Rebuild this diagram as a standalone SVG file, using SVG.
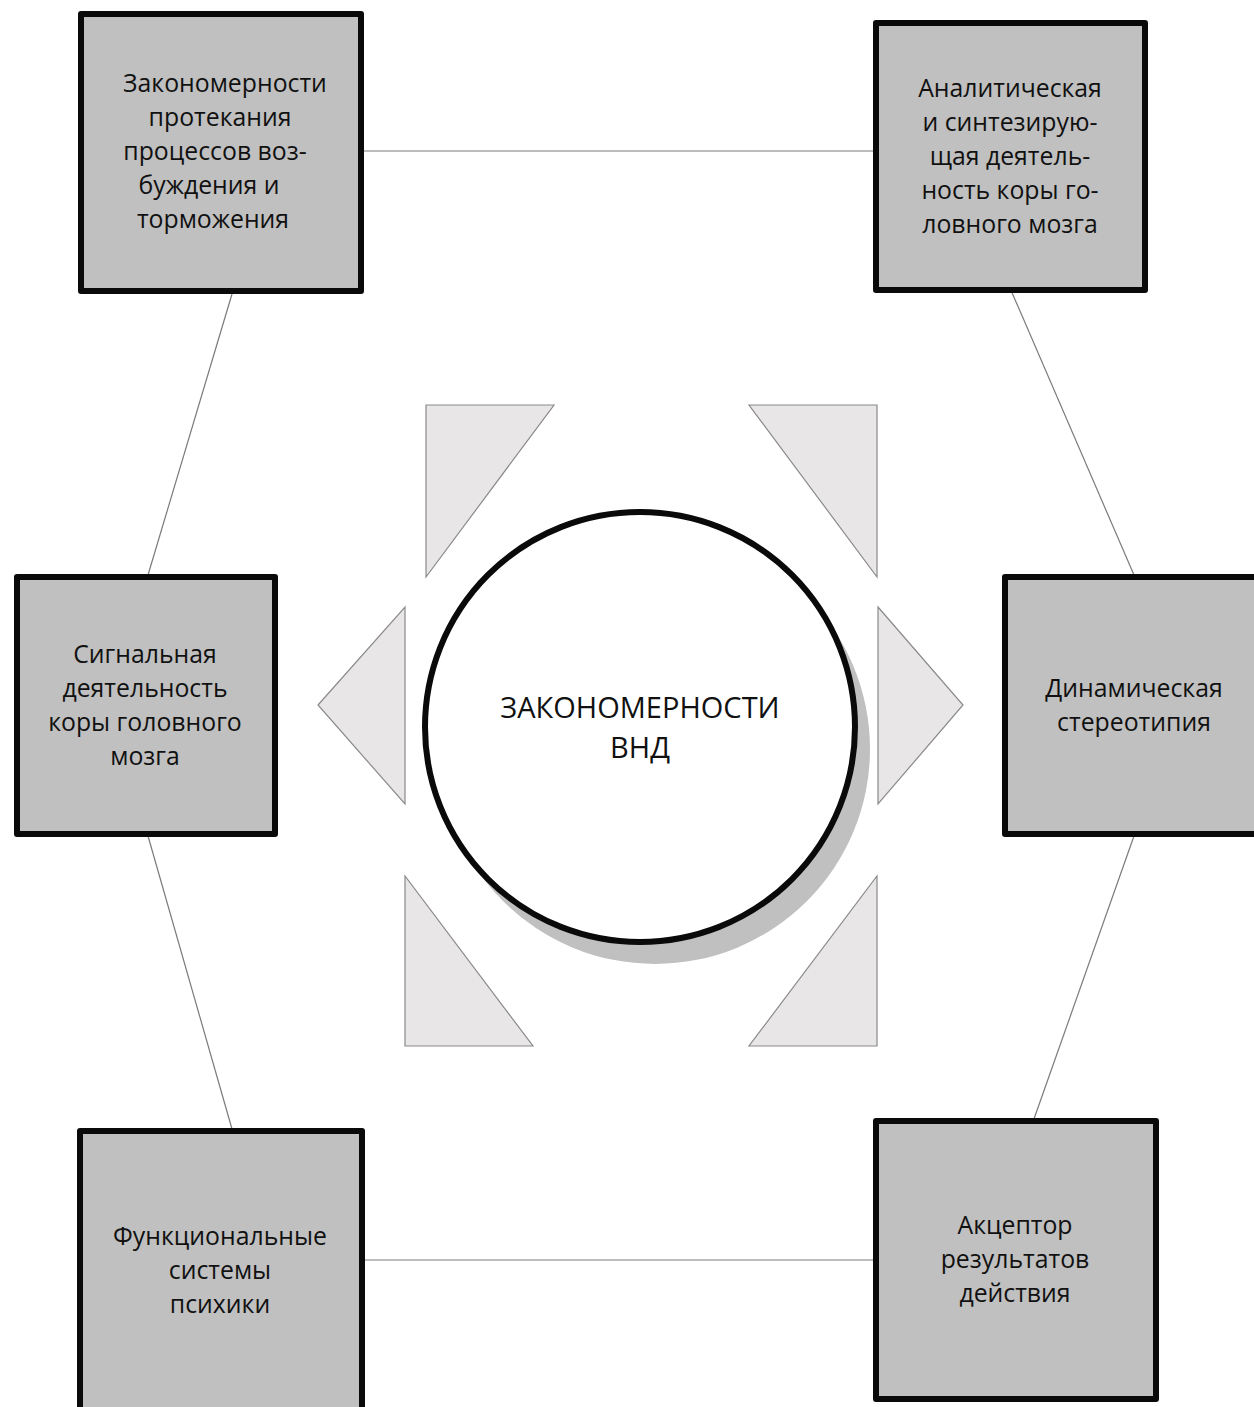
<svg xmlns="http://www.w3.org/2000/svg" width="1254" height="1407" viewBox="0 0 1254 1407">
<style>
.box{fill:#c0c0c0;stroke:#0a0a0a;stroke-width:6;stroke-linejoin:round}
.lbl{font-family:"Open Sans","DejaVu Sans",sans-serif;font-size:24.8px;fill:#111;text-anchor:middle}
.tri{fill:#e8e6e6;stroke:#8a8a8a;stroke-width:1.2}
.con{stroke:#7a7a7a;stroke-width:1.2;fill:none}
.ctr{font-family:"Open Sans","DejaVu Sans",sans-serif;font-size:29px;fill:#111;text-anchor:middle}
</style>
<rect width="1254" height="1407" fill="#ffffff"/>
<g id="connectors">
<line class="con" x1="364" y1="151" x2="875" y2="151"/>
<line class="con" x1="232" y1="294" x2="148" y2="575"/>
<line class="con" x1="148" y1="836" x2="232" y2="1129"/>
<line class="con" x1="1007" y1="281" x2="1134" y2="575"/>
<line class="con" x1="1134" y1="836" x2="1029" y2="1133"/>
<line class="con" x1="364" y1="1260" x2="875" y2="1260"/>
</g>
<g id="triangles">
<polygon class="tri" points="426,405 554,405 426,577"/>
<polygon class="tri" points="749,405 877,405 877,577"/>
<polygon class="tri" points="318,705 405,607 405,804"/>
<polygon class="tri" points="878,607 963,705 878,804"/>
<polygon class="tri" points="405,876 405,1046 533,1046"/>
<polygon class="tri" points="877,876 877,1046 749,1046"/>
</g>
<g id="center">
<circle cx="655" cy="749" r="215" fill="#c0c0c0"/>
<circle cx="640" cy="727" r="215" fill="#ffffff" stroke="#0a0a0a" stroke-width="6"/>
<text class="ctr" x="640" y="718">ЗАКОНОМЕРНОСТИ</text>
<text class="ctr" x="640" y="758">ВНД</text>
</g>
<g id="node1">
<rect class="box" x="81" y="14" width="280" height="277"/>
<text class="lbl" x="225" y="92">Закономерности</text>
<text class="lbl" x="220" y="126">протекания</text>
<text class="lbl" x="215" y="160">процессов воз-</text>
<text class="lbl" x="209" y="194">буждения и</text>
<text class="lbl" x="213" y="228">торможения</text>
</g>
<g id="node2">
<rect class="box" x="876" y="23" width="269" height="267"/>
<text class="lbl" x="1010" y="97">Аналитическая</text>
<text class="lbl" x="1010" y="131">и синтезирую-</text>
<text class="lbl" x="1010" y="165">щая деятель-</text>
<text class="lbl" x="1010" y="199">ность коры го-</text>
<text class="lbl" x="1010" y="233">ловного мозга</text>
</g>
<g id="node3">
<rect class="box" x="17" y="577" width="258" height="257"/>
<text class="lbl" x="145" y="663">Сигнальная</text>
<text class="lbl" x="145" y="697">деятельность</text>
<text class="lbl" x="145" y="731">коры головного</text>
<text class="lbl" x="145" y="765">мозга</text>
</g>
<g id="node4">
<rect class="box" x="1005" y="577" width="258" height="257"/>
<text class="lbl" x="1134" y="697">Динамическая</text>
<text class="lbl" x="1134" y="731">стереотипия</text>
</g>
<g id="node5">
<rect class="box" x="80" y="1131" width="282" height="290"/>
<text class="lbl" x="220" y="1245">Функциональные</text>
<text class="lbl" x="220" y="1279">системы</text>
<text class="lbl" x="220" y="1313">психики</text>
</g>
<g id="node6">
<rect class="box" x="876" y="1121" width="280" height="278"/>
<text class="lbl" x="1015" y="1234">Акцептор</text>
<text class="lbl" x="1015" y="1268">результатов</text>
<text class="lbl" x="1015" y="1302">действия</text>
</g>
</svg>
